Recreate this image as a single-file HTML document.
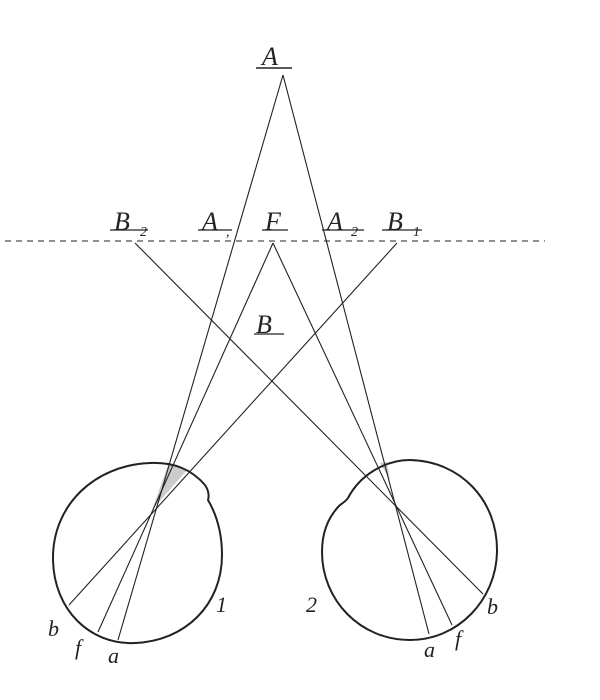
<!DOCTYPE html>
<html><head><style>
body{margin:0;background:#fff;}
svg text{font-family:"Liberation Serif",serif;font-style:italic;fill:#222;}
</style></head><body>
<svg width="600" height="695" viewBox="0 0 600 695" xmlns="http://www.w3.org/2000/svg">
<g stroke="#222" fill="none">
<line x1="5" y1="241" x2="545" y2="241" stroke-dasharray="6,5" stroke-width="1"/>
<path d="M168,465 L187,470 L152,510 Z" fill="#ccc" stroke="none"/>
<path d="M380,463 L387,462 L390,480 Z" fill="#ccc" stroke="none"/>
<g stroke-width="1.1">
<line x1="283" y1="75" x2="118" y2="640"/>
<line x1="283" y1="75" x2="429" y2="634"/>
<line x1="273" y1="243" x2="98" y2="632"/>
<line x1="273" y1="243" x2="452" y2="625"/>
<line x1="397" y1="243" x2="69" y2="605"/>
<line x1="135" y1="243" x2="483" y2="594"/>
</g>
<path d="M205,485 C192,470 175,462 150,463 C95,465 52,505 53,560 C54,610 90,645 135,643 C185,641 222,605 222,555 C222,530 215,512 208,500 C210,493 207,488 205,485" stroke-width="2"/>
<path d="M348,498 C360,475 385,460 410,460 C460,461 498,500 497,552 C496,600 458,640 410,640 C360,640 322,600 322,552 C322,530 330,515 340,505 C343,503 346,501 348,498" stroke-width="2"/>
<line x1="256" y1="68" x2="292" y2="68" stroke-width="1.5"/>
<line x1="110" y1="230" x2="148" y2="230" stroke-width="1.2"/>
<line x1="198" y1="230" x2="232" y2="230" stroke-width="1.2"/>
<line x1="262" y1="230" x2="288" y2="230" stroke-width="1.2"/>
<line x1="322" y1="230" x2="364" y2="230" stroke-width="1.2"/>
<line x1="382" y1="230" x2="422" y2="230" stroke-width="1.2"/>
<line x1="254" y1="334" x2="284" y2="334" stroke-width="1.2"/>
</g>
<g font-size="26">
<text x="262" y="65">A</text>
<text x="114" y="230">B</text><text x="140" y="236" font-size="14">2</text>
<text x="202" y="230">A</text><text x="226" y="236" font-size="14">,</text>
<text x="265" y="230">F</text>
<text x="327" y="230">A</text><text x="351" y="236" font-size="14">2</text>
<text x="387" y="230">B</text><text x="413" y="236" font-size="14">1</text>
<text x="256" y="333">B</text>
<text x="48" y="636" font-size="22">b</text>
<text x="75" y="655" font-size="22">f</text>
<text x="108" y="663" font-size="22">a</text>
<text x="216" y="612" font-size="22">1</text>
<text x="306" y="612" font-size="22">2</text>
<text x="424" y="657" font-size="22">a</text>
<text x="455" y="646" font-size="22">f</text>
<text x="487" y="614" font-size="22">b</text>
</g>
</svg>
</body></html>
